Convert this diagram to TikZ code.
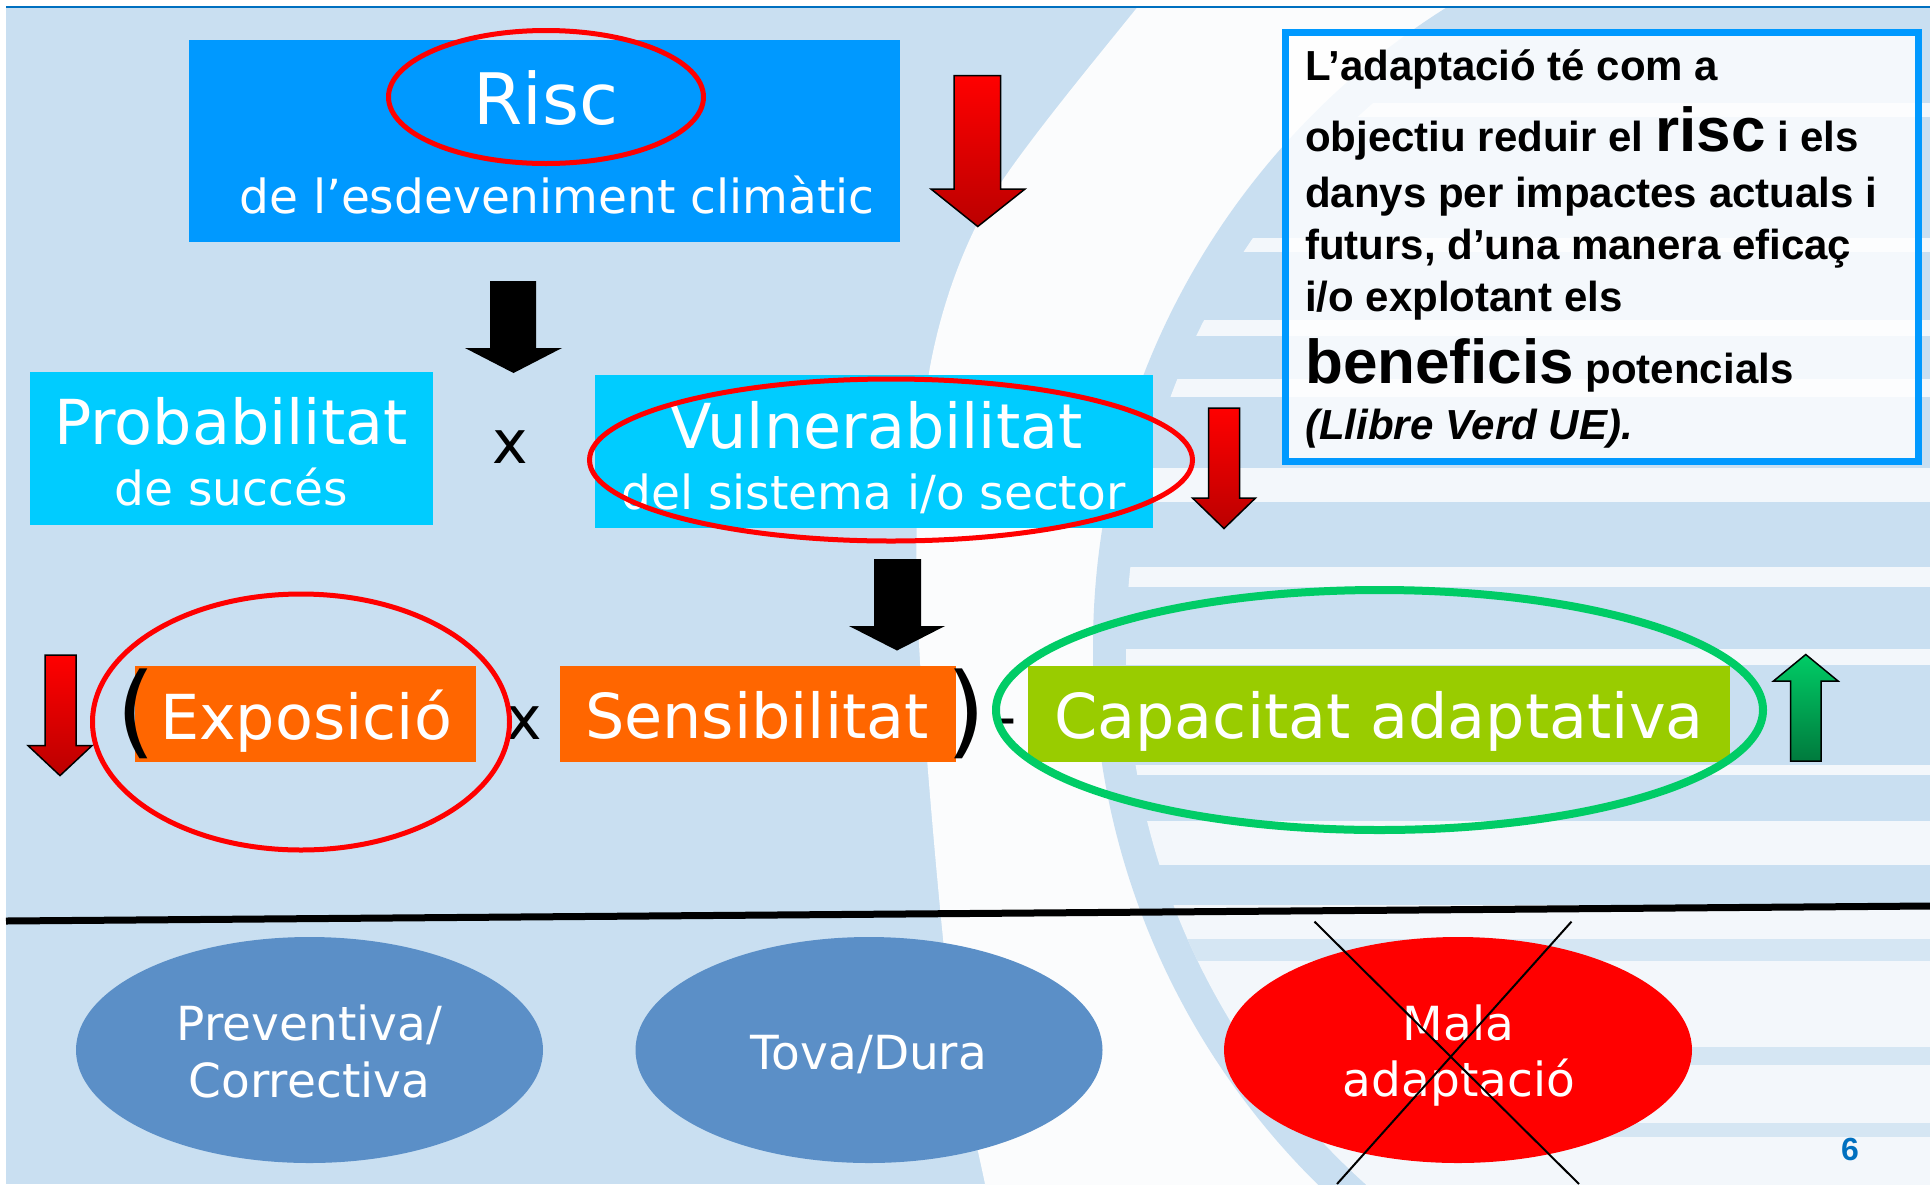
\documentclass[tikz,border=0pt]{standalone}
\usepackage{fontspec}
\newfontfamily\dvs{DejaVu Sans}
\newfontfamily\lib{Liberation Sans}
\usetikzlibrary{shapes.geometric}
\newcommand\setfs[1]{\fontsize{#1}{#1}\selectfont}
\definecolor{bgblue}{HTML}{C9DFF1}
\definecolor{wmwhite}{HTML}{FBFCFD}
\definecolor{topblue}{HTML}{0070C0}
\definecolor{riscblue}{HTML}{0099FF}
\definecolor{cyanbox}{HTML}{00CCFF}
\definecolor{orangebox}{HTML}{FF6600}
\definecolor{limebox}{HTML}{99CC00}
\definecolor{ringred}{HTML}{FF0000}
\definecolor{ringgreen}{HTML}{00CC66}
\definecolor{tbblue}{HTML}{0099FF}
\definecolor{ovalblue}{HTML}{5B8FC7}
\definecolor{ovalred}{HTML}{FF0000}
\definecolor{redtop}{HTML}{FF0000}
\definecolor{redbot}{HTML}{BB0000}
\definecolor{greentop}{HTML}{00CC66}
\definecolor{greenbot}{HTML}{007A3D}
\begin{document}
\begin{tikzpicture}[x=1pt,y=-1pt,
  box/.style={rectangle, inner sep=0pt, draw=none},
  ring/.style={ellipse, inner sep=0pt, draw=ringred, line width=5pt},
  oval/.style={ellipse, inner sep=0pt, draw=none},
  wt/.style={text=white, inner sep=0pt, anchor=base},
  big/.style={wt, font=\dvs\setfs{62}},
  small/.style={wt, font=\dvs\setfs{47}},
  sym/.style={text=black, inner sep=0pt, anchor=base},
  tline/.style={anchor=base west, inner sep=0pt, text=black, font=\lib\bfseries\setfs{42}},
  redarrow/.style={draw=black, line width=1.5pt, top color=redtop, bottom color=redbot},
  greenarrow/.style={draw=black, line width=1.5pt, top color=greentop, bottom color=greenbot},
  blackarrow/.style={fill=black, draw=none},
  stripe/.style={fill=wmwhite, opacity=0.85},
  dstripe/.style={fill=bgblue, opacity=0.7}
]
\useasboundingbox (0,0) rectangle (1930,1184);
\fill[white] (0,0) rectangle (1930,1184);
% background and watermark
\begin{scope}
  \clip (6,8) rectangle (1930,1184);
  \fill[bgblue] (6,8) rectangle (1930,1184);
  \fill[wmwhite] plot[smooth] coordinates {(1160,-20) (1143,0) (990,200) (930,367) (917,600) (948,985) (985,1184) (995,1220)}
        -- (1940,1220) -- (1940,-20) -- cycle;
  \fill[bgblue] (1848,647) circle (755);
  \begin{scope}
    \clip (1848,647) circle (722);
    \foreach \yy/\hh in {110/14, 245/14, 328/16, 388/18, 485/34, 577/20, 657/16, 770/10, 843/44}
      \fill[stripe] (1000,\yy-\hh/2) rectangle (1930,\yy+\hh/2);
    \fill[wmwhite, opacity=0.85] (1000,905) rectangle (1930,1200);
    \foreach \yy/\hh in {950/22, 1056/18, 1130/14}
      \fill[dstripe] (1000,\yy-\hh/2) rectangle (1930,\yy+\hh/2);
  \end{scope}
\end{scope}
% top rule
\coordinate (tl1) at (6,6.7);
\coordinate (tl2) at (1930,6.7);
\draw[topblue, line width=2pt] (tl1) -- (tl2);

% boxes
\node[box, fill=riscblue, minimum width=711pt, minimum height=202pt] (riscbox) at (544.5,141) {};
\node[box, fill=cyanbox, minimum width=403pt, minimum height=153pt] (probbox) at (231.5,448.5) {};
\node[box, fill=cyanbox, minimum width=558pt, minimum height=153pt] (vulnbox) at (874,451.5) {};
\node[box, fill=orangebox, minimum width=341pt, minimum height=96pt] (expbox) at (305.5,714) {};
\node[box, fill=orangebox, minimum width=396pt, minimum height=96pt] (sensbox) at (758.25,714) {};
\node[box, fill=limebox, minimum width=702pt, minimum height=96pt] (capbox) at (1379,714) {};

% texts
\node[wt, font=\dvs\setfs{71}] (risct) at (546,124.6) {Risc};
\node[small] (riscsub) at (557,213) {de l’esdeveniment climàtic};
\node[big] (probt) at (231,444.7) {Probabilitat};
\node[small] (probsub) at (231,505) {de succés};
\node[sym, font=\dvs\setfs{60}] (x1) at (510,463) {x};
\node[big] (vulnt) at (876,448) {Vulnerabilitat};
\node[small] (vulnsub) at (873.5,509) {del sistema i/o sector};
\node[big] (expt) at (306,739) {Exposició};
\node[big] (senst) at (757,738) {Sensibilitat};
\node[big] (capt) at (1379,738) {Capacitat adaptativa};
\node[sym, font=\dvs\setfs{101}] (lpar) at (136,745) {(};
\node[sym, font=\dvs\setfs{101}] (rpar) at (966.5,745) {)};
\node[sym, font=\dvs\setfs{60}] (x2) at (524,739) {x};
\node[sym, font=\dvs\setfs{62}] (minus) at (1006,738) {-};

% rings
\node[ring, minimum width=315pt, minimum height=133pt] (riscring) at (546,97) {};
\node[ring, minimum width=603pt, minimum height=162pt] (vulnring) at (891,460) {};
\node[ring, minimum width=417pt, minimum height=256pt] (expring) at (301,722) {};
\node[ring, draw=ringgreen, line width=8pt, minimum width=767pt, minimum height=240pt] (capring) at (1379.5,710) {};

% block arrows
\path[redarrow] (954,75.5) -- (1000.5,75.5) -- (1000.5,189) -- (1025,189) -- (977.75,226.5) -- (931,189) -- (954,189) -- cycle;
\path[blackarrow] (490,281) -- (536,281) -- (536,348) -- (562,348) -- (513.5,373) -- (465,348) -- (490,348) -- cycle;
\path[redarrow] (1208.5,408) -- (1239.5,408) -- (1239.5,498) -- (1255.5,498) -- (1224,528.5) -- (1192.5,498) -- (1208.5,498) -- cycle;
\path[blackarrow] (874,559) -- (921,559) -- (921,626) -- (945,626) -- (897,650.5) -- (849,626) -- (874,626) -- cycle;
\path[redarrow] (45,655) -- (76,655) -- (76,745.6) -- (92,745.6) -- (60,775.6) -- (28,745.6) -- (45,745.6) -- cycle;
\path[greenarrow] (1790.5,761) -- (1821,761) -- (1821,681) -- (1838,681) -- (1805.75,654.5) -- (1773.5,681) -- (1790.5,681) -- cycle;

% divider
\coordinate (dl) at (6,921);
\coordinate (dr) at (1930,906);
\draw[black, line width=7pt] (dl) -- (dr);

% bottom ovals
\node[oval, fill=ovalblue, minimum width=467pt, minimum height=226pt] (o1) at (309.5,1050) {};
\node[oval, fill=ovalblue, minimum width=467pt, minimum height=226pt] (o2) at (869,1050) {};
\node[oval, fill=ovalred, minimum width=468pt, minimum height=226pt] (o3) at (1458,1050) {};
\node[small] (o1a) at (309.5,1040) {Preventiva/};
\node[small] (o1b) at (309.5,1097) {Correctiva};
\node[small] (o2a) at (869,1069) {Tova/Dura};
\node[small] (o3a) at (1458.5,1040) {Mala};
\node[small] (o3b) at (1459,1096) {adaptació};
\coordinate (xa1) at (1314.5,921.6);
\coordinate (xa2) at (1579,1184);
\coordinate (xb1) at (1571.5,921.6);
\coordinate (xb2) at (1337,1184);
\draw[black, line width=2pt] (xa1) -- (xa2);
\draw[black, line width=2pt] (xb1) -- (xb2);

% text box
\node[draw=tbblue, line width=7pt, fill=white, fill opacity=0.8, inner sep=0pt, minimum width=633pt, minimum height=429pt] (tbox) at (1602,246.5) {};
\node[tline] (l1) at (1305,80.8) {L’adaptació té com a};
\node[tline] (l2) at (1305,151) {objectiu reduir el {\setfs{62}risc} i els};
\node[tline] (l3) at (1305,207.6) {danys per impactes actuals i};
\node[tline] (l4) at (1305,259) {futurs, d’una manera eficaç};
\node[tline] (l5) at (1305,311) {i/o explotant els};
\node[tline] (l6) at (1305,383) {{\setfs{62}beneficis} potencials};
\node[tline] (l7) at (1305,439) {\itshape (Llibre Verd UE).};

% page number
\node[anchor=base, inner sep=0pt, text=topblue, font=\lib\bfseries\setfs{32}] (pg) at (1850,1160) {6};
\end{tikzpicture}
\end{document}
